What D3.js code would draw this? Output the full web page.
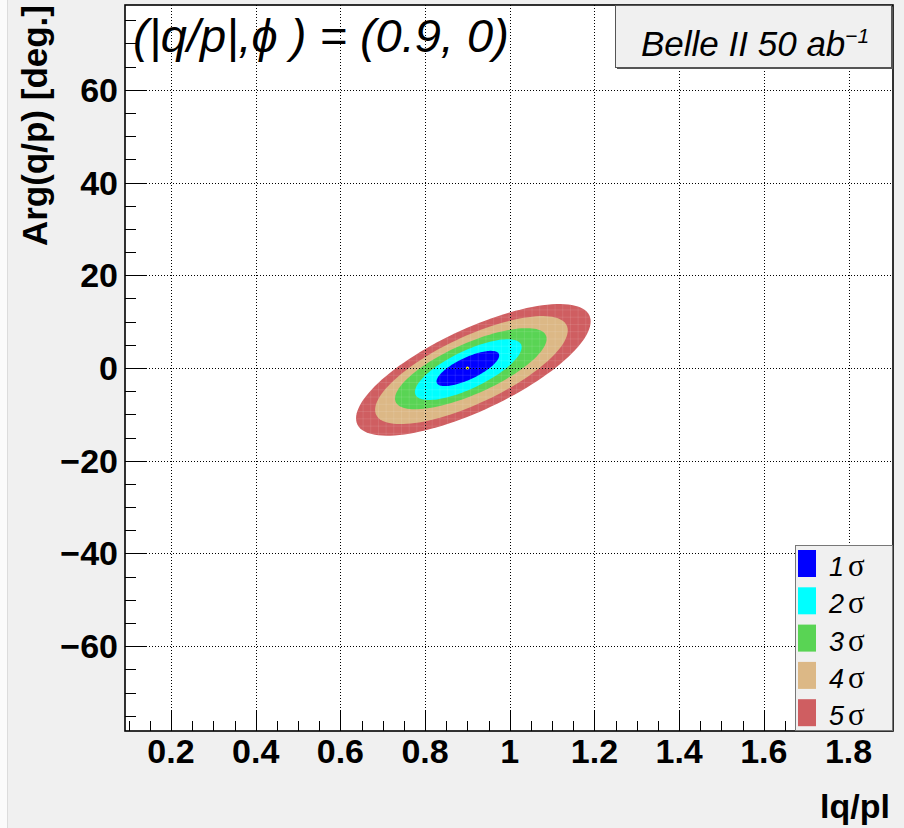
<!DOCTYPE html>
<html>
<head>
<meta charset="utf-8">
<script src="https://cdn.jsdelivr.net/npm/d3@7"></script>
<style>
  body { margin: 0; background: #f0f0f0; }
  svg { display: block; }
  text { font-family: "Liberation Sans", Arial, Helvetica, sans-serif; }
</style>
</head>
<body>
<svg id="chart"></svg>
<script>
// contour levels (n sigma) and their extents
const sigmaLevels = [1, 2, 3, 4, 5];
const contourXLow = [0.827, 0.776, 0.729, 0.682, 0.637];
const contourXHigh = [0.975, 1.028, 1.087, 1.137, 1.191];
const contourYLow = [-3.9, -6.9, -8.9, -12.1, -14.6];
const contourYHigh = [3.7, 6.2, 8.6, 11.2, 13.8];
const contourCorr = 0.735;
const bestFit = [0.9, 0];

const xTicks = [0.2, 0.4, 0.6, 0.8, 1.0, 1.2, 1.4, 1.6, 1.8];
const yTicks = [-60, -40, -20, 0, 20, 40, 60];
const xDomain = [0.0914, 1.905];
const yDomain = [-78.3, 78.3];

const colors = ["#0000ff", "#00ffff", "#59d454", "#dcb886", "#cf5e61"];

const width = 904, height = 828;
const frame = { left: 125, right: 893, top: 5, bottom: 731 };

const svg = d3.select("#chart").attr("width", width).attr("height", height);

svg.append("rect").attr("width", width).attr("height", height).attr("fill", "#f0f0f0");
svg.append("rect").attr("width", 7).attr("height", height).attr("fill", "#fbfbfb");
svg.append("line").attr("x1", 7.5).attr("x2", 7.5).attr("y1", 0).attr("y2", height)
    .attr("stroke", "#dcdcdc");

const x = d3.scaleLinear().domain(xDomain).range([frame.left, frame.right]);
const y = d3.scaleLinear().domain(yDomain).range([frame.bottom, frame.top]);

svg.append("rect")
    .attr("x", frame.left).attr("y", frame.top)
    .attr("width", frame.right - frame.left).attr("height", frame.bottom - frame.top)
    .attr("fill", "#fff");

// ellipse outline for a contour
function ellipsePoints(i) {
    const cx = (contourXLow[i] + contourXHigh[i]) / 2;
    const cy = (contourYLow[i] + contourYHigh[i]) / 2;
    const a = (contourXHigh[i] - contourXLow[i]) / 2;
    const b = (contourYHigh[i] - contourYLow[i]) / 2;
    const s = Math.sqrt(1 - contourCorr * contourCorr);
    return d3.range(0, 2 * Math.PI, Math.PI / 60).map(t => [
        cx + a * Math.cos(t),
        cy + b * (contourCorr * Math.cos(t) + s * Math.sin(t))
    ]);
}
const line = d3.line().x(d => x(d[0])).y(d => y(d[1])).curve(d3.curveLinearClosed);

// contours, outermost first
const contours = svg.append("g");
sigmaLevels.map((s, i) => i).reverse().forEach(i => {
    contours.append("path")
        .attr("d", line(ellipsePoints(i)))
        .attr("fill", colors[i]);
});

// faint bin seams like in the original rendering
svg.append("clipPath").attr("id", "outer")
    .append("path").attr("d", line(ellipsePoints(4)));
const seams = svg.append("g").attr("clip-path", "url(#outer)")
    .attr("stroke", "#fff").attr("stroke-opacity", 0.1).attr("stroke-width", 1);
const nBins = 100;
d3.range(nBins + 1).forEach(k => {
    const xv = xDomain[0] + k * (xDomain[1] - xDomain[0]) / nBins;
    const yv = yDomain[0] + k * (yDomain[1] - yDomain[0]) / nBins;
    seams.append("line").attr("x1", x(xv)).attr("x2", x(xv))
        .attr("y1", frame.top).attr("y2", frame.bottom);
    seams.append("line").attr("y1", y(yv)).attr("y2", y(yv))
        .attr("x1", frame.left).attr("x2", frame.right);
});

// best fit point
svg.append("circle")
    .attr("cx", x(bestFit[0])).attr("cy", y(bestFit[1]))
    .attr("r", 1.5).attr("fill", "#ffff00");

// grid
const grid = svg.append("g").attr("stroke", "#000").attr("stroke-width", 1)
    .attr("stroke-dasharray", "1,2");
xTicks.forEach(v => {
    grid.append("line").attr("x1", Math.round(x(v)) + 0.5).attr("x2", Math.round(x(v)) + 0.5)
        .attr("y1", frame.top).attr("y2", frame.bottom);
});
yTicks.forEach(v => {
    grid.append("line").attr("y1", Math.round(y(v)) + 0.5).attr("y2", Math.round(y(v)) + 0.5)
        .attr("x1", frame.left).attr("x2", frame.right);
});

// frame border
svg.append("rect")
    .attr("x", frame.left).attr("y", frame.top)
    .attr("width", frame.right - frame.left).attr("height", frame.bottom - frame.top)
    .attr("fill", "none").attr("stroke", "#000").attr("stroke-width", 1.6);

// axis ticks
const xMinor = d3.range(0.1, 1.9001, 0.05);
const ticks = svg.append("g").attr("stroke", "#000").attr("stroke-width", 1);
xMinor.forEach(v => {
    const major = xTicks.some(t => Math.abs(t - v) < 1e-6);
    const px = Math.round(x(v)) + 0.5;
    ticks.append("line").attr("x1", px).attr("x2", px)
        .attr("y1", frame.bottom).attr("y2", frame.bottom - (major ? 21 : 10));
});
const yMinor = d3.range(-75, 75.001, 5);
yMinor.forEach(v => {
    const major = yTicks.includes(v);
    const py = Math.round(y(v)) + 0.5;
    ticks.append("line").attr("y1", py).attr("y2", py)
        .attr("x1", frame.left).attr("x2", frame.left + (major ? 22 : 11));
});

// tick labels
svg.append("g").selectAll("text").data(xTicks).join("text")
    .attr("x", d => x(d)).attr("y", 763)
    .attr("text-anchor", "middle")
    .attr("font-size", 34).attr("font-weight", "bold")
    .text(d => d3.format("~g")(d));

svg.append("g").selectAll("text").data(yTicks).join("text")
    .attr("x", 118).attr("y", d => y(d) + 12)
    .attr("text-anchor", "end")
    .attr("font-size", 34).attr("font-weight", "bold")
    .text(d => d < 0 ? "\u2212" + Math.abs(d) : d);

// axis titles
svg.append("text")
    .attr("transform", "translate(47,5) rotate(-90)")
    .attr("text-anchor", "end")
    .attr("font-size", 35).attr("font-weight", "bold")
    .text("Arg(q/p) [deg.]");

svg.append("text")
    .attr("x", 890).attr("y", 818)
    .attr("text-anchor", "end")
    .attr("font-size", 34).attr("font-weight", "bold")
    .text("lq/pl");

// title
const title = svg.append("text")
    .attr("x", 133).attr("y", 52)
    .attr("font-size", 47).attr("font-style", "italic");
title.append("tspan").text("(|q/p|,");
title.append("tspan").text("\u03d5");
title.append("tspan").text(" ) = (0.9, 0)");

// Belle II box
svg.append("rect").attr("x", 617).attr("y", 7).attr("width", 276).attr("height", 62)
    .attr("fill", "#555");
svg.append("rect").attr("x", 615.5).attr("y", 5.5).attr("width", 276).attr("height", 62)
    .attr("fill", "#f0f0f0").attr("stroke", "#555").attr("stroke-width", 1);
const belle = svg.append("text")
    .attr("x", 641).attr("y", 56)
    .attr("font-size", 35).attr("font-style", "italic");
belle.append("tspan").text("Belle II 50 ab");
belle.append("tspan").attr("dy", -13).attr("font-size", 21).text("\u22121");

// legend
const legend = svg.append("g");
legend.append("rect").attr("x", 795.5).attr("y", 545.5).attr("width", 97).attr("height", 185)
    .attr("fill", "#f0f0f0").attr("stroke", "#777").attr("stroke-width", 1);
const entry = legend.selectAll("g").data(sigmaLevels).join("g")
    .attr("transform", (d, i) => `translate(0,${550 + i * 37.3})`);
entry.append("rect").attr("x", 798).attr("y", 0).attr("width", 18).attr("height", 27)
    .attr("fill", (d, i) => colors[i]);
const lt = entry.append("text").attr("x", 829).attr("y", 26).attr("font-size", 27);
lt.append("tspan").attr("font-style", "italic").text(d => d);
lt.append("tspan").attr("dx", 4).attr("font-size", 31)
    .attr("font-family", "'Liberation Serif', 'DejaVu Serif', serif").text("\u03c3");
</script>
</body>
</html>
